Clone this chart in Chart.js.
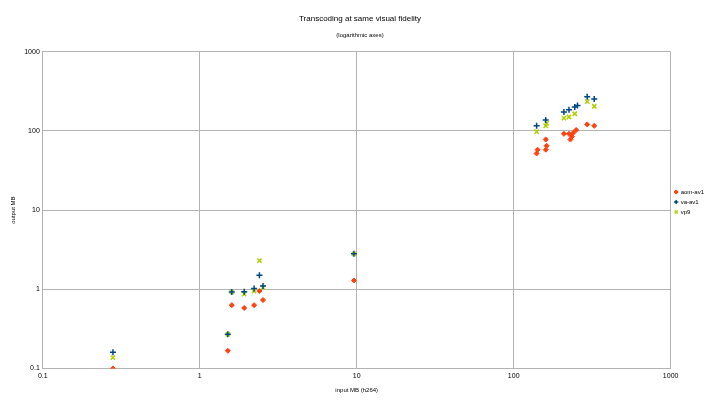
<!DOCTYPE html><html><head><script src="https://cdn.jsdelivr.net/npm/chart.js"></script>
<style>body{margin:0;background:#fff}#w{width:720px;height:404px}</style></head><body><div id="w"><canvas id="c"></canvas></div>
<script>
const aomX=[0.28,1.51,1.6,1.92,2.22,2.4,2.53,9.6,140,142,160,162,160,209,225,235,240,250,230,294,326];
const aomY=[0.1,0.167,0.63,0.58,0.63,0.95,0.73,1.29,52,58,78,65,58,92,92,85,95,103,78,121,116];
const vaX=[0.28,1.51,1.6,1.92,2.22,2.4,2.53,9.6,140,160,209,225,245,255,294,326];
const vaY=[0.16,0.27,0.92,0.93,1.02,1.5,1.1,2.8,116,138,174,185,200,210,270,254];
const vpX=[0.28,1.51,1.6,1.92,2.22,2.4,2.53,9.6,140,160,162,209,225,245,294,326];
const vpY=[0.137,0.27,0.92,0.87,0.95,2.3,1.05,2.8,98,116,125,145,150,165,235,205];
const pts=(x,y)=>x.map((v,i)=>({x:v,y:y[i]}));
const tk=[0.1,1,10,100,1000];
const logAxis=(title,min,max)=>({type:'logarithmic',min,max,
 afterBuildTicks:a=>{a.ticks=tk.filter(v=>v>=min&&v<=max).map(v=>({value:v}));},
 ticks:{color:'#000',font:{size:7,family:'Liberation Sans'},callback:v=>String(v)},
 grid:{color:'#b3b3b3',drawTicks:false},border:{color:'#b3b3b3'},
 title:{display:true,text:title,color:'#000',font:{size:6,family:'Liberation Sans'}}});
new Chart(document.getElementById('c'),{type:'scatter',
data:{datasets:[
{label:'aom-av1',data:pts(aomX,aomY),pointStyle:'rectRot',backgroundColor:'#ff420e',borderColor:'#ff420e',pointRadius:2.5},
{label:'va-av1',data:pts(vaX,vaY),pointStyle:'cross',borderColor:'#004586',backgroundColor:'#004586',borderWidth:1.5,pointRadius:3},
{label:'vp9',data:pts(vpX,vpY),pointStyle:'crossRot',borderColor:'#aecf00',backgroundColor:'#aecf00',borderWidth:1.5,pointRadius:3}]},
options:{responsive:true,maintainAspectRatio:false,animation:false,
layout:{padding:{left:6,right:6,top:6,bottom:6}},
plugins:{title:{display:true,text:'Transcoding at same visual fidelity',color:'#000',font:{size:8,family:'Liberation Sans',weight:'normal'},padding:{top:8,bottom:8}},
subtitle:{display:true,text:'(logarithmic axes)',color:'#000',font:{size:6,family:'Liberation Sans'},padding:{bottom:13}},
legend:{position:'right',labels:{usePointStyle:true,boxWidth:3,boxHeight:3,padding:4,color:'#000',font:{size:6,family:'Liberation Sans'}}},
tooltip:{enabled:false}},
scales:{x:logAxis('input MB (h264)',0.1,1000),y:logAxis('output MB',0.1,1000)}}});
</script></body></html>
